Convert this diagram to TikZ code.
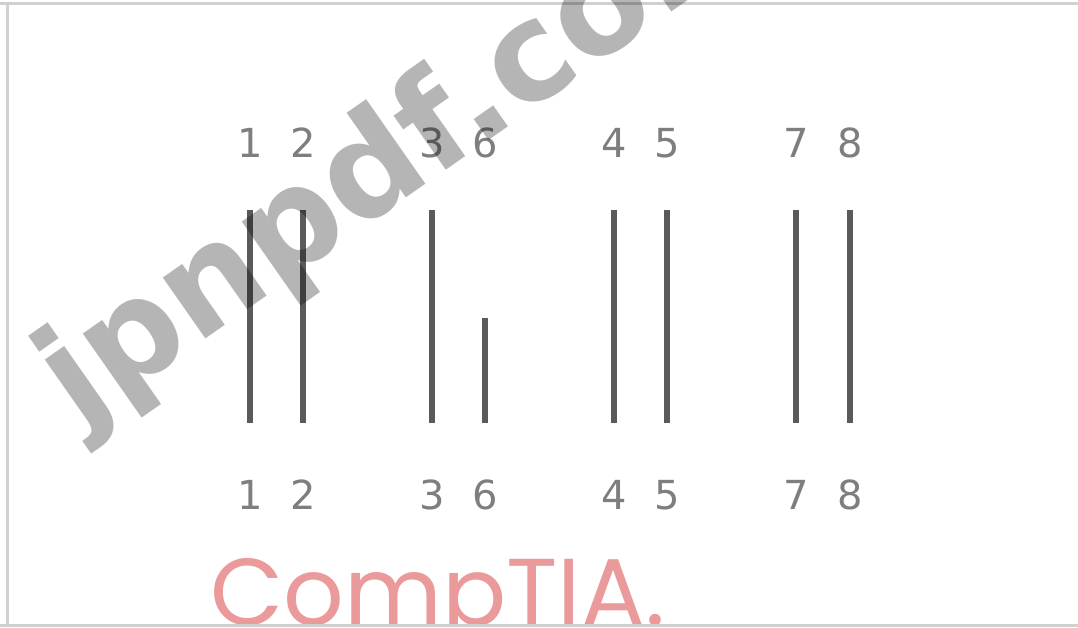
\documentclass[tikz,border=0pt]{standalone}
\usepackage{fontspec}
\setmainfont{DejaVu Sans}
\newfontfamily\logofont{Poppins}
\newfontfamily\wmfont{DejaVu Sans}[BoldFont={DejaVu Sans Bold}]
\definecolor{wiregray}{HTML}{5A5A5A}
\definecolor{numgray}{HTML}{7E7E7E}
\definecolor{framegray}{HTML}{D0D0D0}
\definecolor{logopink}{HTML}{EB9A9C}
\begin{document}
\begin{tikzpicture}[x=1pt,y=-1pt,
  pin/.style={draw=wiregray, line width=6pt},
  num/.style={text=numgray, font=\fontsize{40}{40}\selectfont, inner sep=0pt},
  frameline/.style={draw=framegray, line width=3pt}]
\useasboundingbox[fill=white] (0,0) rectangle (1078,627);

% pins: top and bottom end points
\foreach \n/\x/\t in {1/250/210, 2/303/210, 3/432/210, 6/485/318, 4/614/210, 5/667/210, 7/796/210, 8/850/210} {
  \coordinate (t\n) at (\x,\t);
  \coordinate (b\n) at (\x,423);
  \node[num] (top\n) at (\x,143) {\n};
  \node[num] (bot\n) at (\x,495) {\n};
}
\foreach \n in {1,2,3,6,4,5,7,8} {
  \draw[pin] (t\n) -- (b\n);
}

% logo, clipped by the frame
\begin{scope}
  \clip (0,0) rectangle (1078,623);
  \node[anchor=base west, inner sep=0pt, text=logopink,
        font=\logofont\fontsize{95}{95}\selectfont] (logo) at (210,625) {CompTIA.};
\end{scope}

% frame
\draw[frameline] (0,3.5) -- (1078,3.5);
\draw[frameline] (7,3.5) -- (7,625);
\draw[frameline] (0,625) -- (1078,625);

% watermark
\node[anchor=base west, inner sep=0pt, rotate=35, text=black, text opacity=0.29,
      font=\wmfont\bfseries\fontsize{136}{136}\selectfont] (wm) at (78,428) {jpnpdf.com};
\end{tikzpicture}
\end{document}
